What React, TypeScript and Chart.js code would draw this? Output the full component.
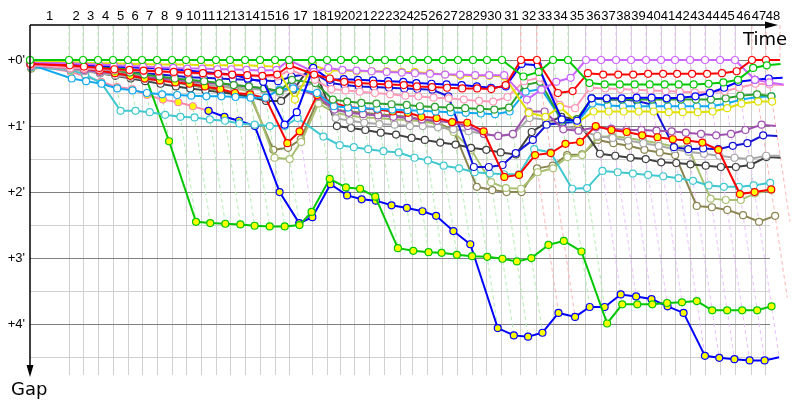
import { useEffect, useRef } from 'react';
import { Chart, registerables } from 'chart.js';
Chart.register(...registerables);

// Leader's cumulative time (minutes) at the end of each lap (index = lap)
const lapEnds = [0, 3.98, 5.41, 6.94, 8.47, 10.0, 11.43, 12.96, 14.49, 15.92, 17.45,
  18.98, 20.41, 21.94, 23.47, 25.0, 26.43, 28.78, 30.31, 31.73, 33.16,
  34.69, 36.22, 37.76, 39.08, 40.61, 42.14, 43.67, 45.2, 46.63, 48.16,
  50.1, 51.73, 53.37, 54.9, 56.73, 58.27, 59.8, 61.33, 62.86, 64.39,
  65.82, 67.35, 68.88, 70.41, 71.94, 73.67, 75.1, 76.53];

const lapLabels = ['1','2','3','4','5','6','7','8','9','10','11','12','13','14','15','16','17','18','19','20',
  '21','22','23','24','25','26','27','28','29','30','31','32','33','34','35','36','37','38','39','40',
  '41','42','43','44','45','46','47','48'];

const lapLeaders = ['green','green','green','green','green','green','green','green','green','green',
  'green','green','green','green','green','magenta','green','green','green','green',
  'green','green','green','green','green','green','green','green','green','green',
  'red','red','green','green','magenta','magenta','magenta','magenta','magenta','magenta',
  'magenta','magenta','magenta','magenta','magenta','red','red','red'];

const gapTicks = [0, 0.5, 1, 1.5, 2, 2.5, 3, 3.5, 4, 4.5];

// Gap to leader (minutes) per lap, index = lap 0..48
const gapGreen = [0, 0,0,0,0,0, 0,0,0,0,0, 0,0,0,0,0, 0,0,0,0,0, 0,0,0,0,0, 0,0,0,0,0,
  0.25,0.18,0,0,0.35, 0.37,0.37,0.37,0.37,0.37, 0.37,0.37,0.36,0.34,0.3, 0.12,0.08,0.06];
const gapRed = [0.06, 0.08,0.1,0.12,0.14,0.15, 0.16,0.17,0.18,0.19,0.2, 0.21,0.22,0.23,0.24,0.22,
  0.08,0.22,0.28,0.33,0.35, 0.36,0.37,0.38,0.4,0.41, 0.42,0.43,0.43,0.44,0.38,
  0,0,0.5,0.47,0.2, 0.22,0.22,0.22,0.21,0.21, 0.21,0.21,0.21,0.2,0.17, 0,0,0];
const gapMagenta = [0.04, 0.05,0.06,0.07,0.08,0.09, 0.1,0.11,0.12,0.13,0.13, 0.14,0.14,0.15,0.16,0.15,
  0,0.18,0.12,0.15,0.16, 0.17,0.18,0.19,0.2,0.21, 0.22,0.22,0.23,0.23,0.23,
  0.6,0.45,0.33,0.27,0, 0,0,0,0,0, 0,0,0,0,0, 0.3,0.34,0.37];
const gapYellow = [0.02, 0.03,0.04,0.05,0.05,0.06, 0.06,0.07,0.07,0.07,0.08, 0.08,0.08,0.08,0.09,0.1,
  0.6,0.08,0.16,0.16,0.17, 0.17,0.17,0.18,0.18,0.2, 0.22,0.24,0.24,0.24,0.25,
  0.8,0.86,0.71,0.95,0.78, 0.78,0.78,0.78,0.78,0.79, 0.79,0.79,0.78,0.73,0.66, 0.63,0.63,0.63];
const gapBlue = [0.05, 0.06,0.08,0.09,0.1,0.11, 0.12,0.13,0.14,0.16,0.18, 0.2,0.22,0.28,0.33,0.98,
  0.79,0.12,0.3,0.29,0.3, 0.31,0.32,0.33,0.35,0.36, 0.37,0.38,0.4,0.42,0.4,
  0.06,0.08,0.9,0.92,0.58, 0.58,0.58,0.57,0.57,0.58, 0.57,0.55,0.5,0.42,0.33, 0.3,0.28,0.27];
const gapPink = [0.08, 0.12,0.13,0.14,0.15,0.16, 0.17,0.18,0.19,0.2,0.21, 0.22,0.23,0.24,0.25,0.25,
  0.15,0.3,0.44,0.46,0.48, 0.5,0.52,0.54,0.55,0.57, 0.58,0.6,0.62,0.63,0.56,
  0.32,0.27,0.68,0.73,0.42, 0.43,0.44,0.45,0.46,0.47, 0.48,0.49,0.49,0.47,0.42, 0.36,0.37,0.38];
const gapDarkGreen = [0.04, 0.07,0.1,0.13,0.16,0.19, 0.22,0.25,0.28,0.3,0.32, 0.35,0.38,0.4,0.43,0.47,
  0.3,0.35,0.6,0.63,0.65, 0.66,0.67,0.68,0.7,0.71, 0.72,0.73,0.74,0.75,0.72,
  0.38,0.33,0.92,0.9,0.58, 0.6,0.6,0.6,0.6,0.6, 0.6,0.6,0.6,0.58,0.54, 0.52,0.55,0.55];
const gapSky = [0.07, 0.28,0.32,0.36,0.43,0.46, 0.5,0.52,0.53,0.54,0.55, 0.55,0.56,0.57,0.57,0.45,
  0.43,0.5,0.7,0.72,0.73, 0.74,0.75,0.76,0.77,0.78, 0.79,0.8,0.81,0.82,0.78,
  0.48,0.44,0.91,0.94,0.66, 0.69,0.7,0.7,0.7,0.7, 0.7,0.7,0.7,0.66,0.6, 0.56,0.55,0.55];
const gapPurple = [0.09, 0.12,0.15,0.18,0.2,0.23, 0.26,0.28,0.3,0.32,0.34, 0.36,0.38,0.4,0.43,0.47,
  0.4,0.55,0.75,0.8,0.82, 0.84,0.86,0.88,0.9,0.92, 0.95,1.0,1.12,1.15,1.12,
  0.78,0.78,1.05,1.07,1.02, 1.04,1.06,1.06,1.07,1.08, 1.1,1.12,1.14,1.12,1.06, 0.98,1.0,1.02];
const gapBlue2 = [0.05, 0.1,0.12,0.14,0.16,0.18, 0.2,0.22,0.24,0.26,0.27, 0.28,0.29,0.3,0.31,0.32,
  0.25,0.2,0.35,0.38,0.4, 0.41,0.42,0.43,0.44,0.45, 0.55,1.62,1.62,1.59,1.41,
  1.21,0.98,0.95,0.94,0.58, 0.6,0.6,0.62,0.68,1.32, 1.35,1.34,1.35,1.3,1.26, 1.14,1.15,1.15];
const gapGray = [0.1, 0.14,0.17,0.2,0.23,0.26, 0.29,0.31,0.33,0.35,0.37, 0.39,0.41,0.43,0.46,0.5,
  0.42,0.35,0.88,0.92,0.95, 0.97,0.98,1.0,1.0,1.02, 1.05,1.08,1.12,1.15,1.13,
  0.88,0.9,1.0,1.05,1.15, 1.18,1.22,1.26,1.3,1.35, 1.39,1.42,1.45,1.48,1.5, 1.45,1.45,null];
const gapBlack = [0.08, 0.12,0.16,0.2,0.24,0.28, 0.32,0.36,0.4,0.43,0.46, 0.49,0.52,0.56,0.62,0.62,
  0.45,0.05,1.0,1.03,1.06, 1.1,1.13,1.18,1.21,1.25, 1.28,1.33,1.36,1.4,1.43,
  1.09,0.95,0.86,0.9,1.42, 1.45,1.48,1.5,1.55,1.56, 1.58,1.6,1.62,1.62,1.59, 1.47,1.48,null];
const gapTurquoise = [0.11, 0.15,0.22,0.35,0.77,0.77, 0.79,0.83,0.86,0.87,0.9, 0.92,0.96,0.98,1.0,1.0,
  0.88,1.16,1.29,1.32,1.35, 1.38,1.4,1.48,1.52,1.6, 1.64,1.7,1.72,1.73,1.73,
  1.35,1.4,1.95,1.94,1.68, 1.7,1.72,1.74,1.76,1.79, 1.83,1.9,1.92,1.92,1.9, 1.86,1.88,null];
const gapLightOlive = [0.12, 0.1,0.13,0.16,0.19,0.22, 0.25,0.28,0.31,0.34,0.37, 0.4,0.43,0.47,1.48,1.5,
  1.24,0.66,0.8,0.84,0.87, 0.88,0.9,0.91,0.93,0.97, 1.09,1.36,1.85,1.94,1.95,
  1.7,1.64,1.47,1.44,1.17, 1.15,1.18,1.22,1.26,1.31, 1.31,2.1,2.12,2.12,2.02, 1.97,2.06,null];
const gapOlive = [0.13, 0.1,0.14,0.17,0.2,0.23, 0.26,0.3,0.34,0.38,0.42, 0.46,0.5,0.55,1.36,1.33,
  1.2,0.6,0.75,0.78,0.8, 0.82,0.84,0.86,0.9,0.95, 1.06,1.92,1.97,2.0,2.0,
  1.64,1.6,1.44,1.43,1.21, 1.26,1.3,1.36,1.4,1.44, 2.21,2.23,2.27,2.35,2.45, 2.36,2.4,null];
const gapRedY = [0.07, 0.1,0.13,0.16,0.2,0.24, 0.28,0.31,0.34,0.36,0.4, 0.44,0.5,0.52,0.58,1.26,
  1.08,0.53,0.65,0.71,0.73, 0.75,0.78,0.8,0.86,0.88, 0.94,0.95,1.08,1.77,1.74,
  1.44,1.41,1.27,1.24,1.0, 1.06,1.09,1.14,1.17,1.2, 1.22,1.25,1.36,2.03,2.0, 1.96,2.45,null];
const gapGreenY = [0.01, 0.05,0.08,0.1,0.12,0.14, 0.18,1.23,2.45,2.47,2.48, 2.49,2.51,2.52,2.52,2.5,
  2.3,1.8,1.93,1.95,2.07, 2.85,2.89,2.91,2.92,2.95, 2.97,2.98,3.01,3.05,3.0,
  2.8,2.74,2.9,3.99,3.7, 3.7,3.7,3.68,3.67,3.65, 3.79,3.79,3.79,3.79,3.73, 3.6,null,null];
const gapBlueY = [null, null,null,null,null,null, null,null,null,null,0.77, 0.86,0.92,1.0,2.0,2.47,
  2.38,1.88,2.05,2.11,2.13, 2.2,2.24,2.29,2.36,2.59, 2.79,4.06,4.17,4.19,4.13,
  3.83,3.89,3.74,3.74,3.55, 3.58,3.62,3.73,3.83,4.48, 4.51,4.53,4.55,4.55,4.5, null,null,null];
const gapPinkY = [0.08, 0.18,0.25,0.33,0.41,0.44, 0.53,0.6,0.64,0.7,0.77, null,null,null,null,null,
  null,null,null,null,null, null,null,null,null,null, null,null,null,null,null,
  null,null,null,null,null, null,null,null,null,null, null,null,null,null,null, null,null,null];

const cars = [
  { name: 'green', gaps: gapGreen, color: '#00c800', fill: '#ffffff' },
  { name: 'red', gaps: gapRed, color: '#ff0000', fill: '#ffffff' },
  { name: 'magenta', gaps: gapMagenta, color: '#cc66ff', fill: '#ffffff' },
  { name: 'blue', gaps: gapBlue, color: '#0000ff', fill: '#ffffff' },
  { name: 'yellow', gaps: gapYellow, color: '#e0e000', fill: '#ffffff' },
  { name: 'pink', gaps: gapPink, color: '#ff99b8', fill: '#ffffff' },
  { name: 'darkgreen', gaps: gapDarkGreen, color: '#2ca02c', fill: '#ffffff' },
  { name: 'sky', gaps: gapSky, color: '#10a8f0', fill: '#ffffff' },
  { name: 'redY', gaps: gapRedY, color: '#ff0000', fill: '#ffff00' },
  { name: 'purple', gaps: gapPurple, color: '#a050b0', fill: '#ffffff' },
  { name: 'blue2', gaps: gapBlue2, color: '#1414d8', fill: '#ffffff' },
  { name: 'gray', gaps: gapGray, color: '#a8a8a8', fill: '#ffffff' },
  { name: 'black', gaps: gapBlack, color: '#404040', fill: '#ffffff' },
  { name: 'turquoise', gaps: gapTurquoise, color: '#40c8d0', fill: '#ffffff' },
  { name: 'lightolive', gaps: gapLightOlive, color: '#a8c070', fill: '#ffffff' },
  { name: 'olive', gaps: gapOlive, color: '#8a8550', fill: '#ffffff' },
  { name: 'greenY', gaps: gapGreenY, color: '#00c800', fill: '#ffff00' },
  { name: 'blueY', gaps: gapBlueY, color: '#0000ff', fill: '#ffff00' },
  { name: 'pinkY', gaps: gapPinkY, color: '#ff88aa', fill: '#ffff00' },
];

const lapLineColors: Record<string, string> = { green: '#b4ecb4', red: '#ffb4b4', magenta: '#eac0ff' };

const Y_MIN = -0.53;
const Y_MAX = 4.77;
const X_MAX = 75.51;

const axisDecor = {
  id: 'axisDecor',
  afterDraw(chart: any) {
    const { ctx, chartArea } = chart;
    const { left, top, right, bottom } = chartArea;
    ctx.save();
    ctx.strokeStyle = '#000';
    ctx.fillStyle = '#000';
    ctx.lineWidth = 1.5;
    ctx.beginPath();
    ctx.moveTo(left, top);
    ctx.lineTo(right + 2, top);
    ctx.stroke();
    ctx.beginPath();
    ctx.moveTo(right + 8, top);
    ctx.lineTo(right - 5, top - 3.5);
    ctx.lineTo(right - 5, top + 3.5);
    ctx.closePath();
    ctx.fill();
    ctx.beginPath();
    ctx.moveTo(left, top);
    ctx.lineTo(left, bottom - 4);
    ctx.stroke();
    ctx.beginPath();
    ctx.moveTo(left, bottom + 2);
    ctx.lineTo(left - 3.5, bottom - 10);
    ctx.lineTo(left + 3.5, bottom - 10);
    ctx.closePath();
    ctx.fill();
    ctx.font = '18px "DejaVu Sans"';
    ctx.textAlign = 'right';
    ctx.textBaseline = 'alphabetic';
    ctx.fillText('Time', right + 17, top + 20);
    ctx.textAlign = 'left';
    ctx.fillText('Gap', 11, bottom + 20);
    ctx.restore();
  },
};

export default function App() {
  const ref = useRef<HTMLCanvasElement>(null);
  useEffect(() => {
    document.body.style.margin = '0';
    const carSets = cars.map((c) => ({
      type: 'line',
      label: c.name,
      data: c.gaps
        .map((g, k) => (g == null ? null : { x: lapEnds[k] + g, y: g }))
        .filter((p) => p !== null),
      borderColor: c.color,
      backgroundColor: c.fill,
      pointBackgroundColor: c.fill,
      pointBorderColor: c.color,
      pointRadius: 3.5,
      pointBorderWidth: 1.2,
      borderWidth: 2,
      tension: 0,
      clip: false,
      order: 0,
    }));
    const lapSets = lapLeaders.map((leader, i) => {
      const k = i + 1;
      let maxGap = 0;
      cars.forEach((c) => {
        const g = c.gaps[k];
        if (g != null && g > maxGap) maxGap = g;
      });
      return {
        type: 'line',
        label: 'lap' + k,
        data: [
          { x: lapEnds[k], y: Y_MIN },
          { x: lapEnds[k], y: 0 },
          { x: lapEnds[k] + maxGap, y: maxGap },
        ],
        borderColor: lapLineColors[leader],
        borderWidth: 1,
        borderDash: [4, 3],
        pointRadius: 0,
        tension: 0,
        clip: false,
        order: 5,
      };
    });

    const chart = new Chart(ref.current as HTMLCanvasElement, {
      type: 'line',
      data: { datasets: [...carSets, ...lapSets] as any },
      options: {
        animation: false,
        responsive: false,
        events: [],
        layout: { padding: { left: 0, top: 0, right: 30, bottom: 25 } },
        plugins: { legend: { display: false }, tooltip: { enabled: false } },
        scales: {
          x: {
            type: 'linear',
            position: 'bottom',
            min: 0,
            max: X_MAX,
            afterFit: (s: any) => { s.height = 0; },
            afterBuildTicks: (s: any) => {
              s.ticks = lapEnds.slice(1).filter((v) => v <= X_MAX).map((v) => ({ value: v }));
            },
            grid: { color: '#d0d0d0', lineWidth: 1, drawTicks: false },
            border: { display: false },
            ticks: { display: false },
          },
          xLab: {
            type: 'linear',
            position: 'top',
            min: 0,
            max: X_MAX,
            afterFit: (s: any) => { s.height = 25; },
            afterBuildTicks: (s: any) => {
              s.ticks = lapLabels.map((_, i) => ({ value: (lapEnds[i] + lapEnds[i + 1]) / 2 }));
            },
            grid: { display: false, drawTicks: false },
            border: { display: false },
            ticks: {
              autoSkip: false,
              maxRotation: 0,
              minRotation: 0,
              padding: 1,
              color: '#000',
              font: { family: '"Liberation Sans"', size: 13 },
              callback: (_v: any, i: number) => lapLabels[i],
            },
          },
          y: {
            type: 'linear',
            reverse: true,
            min: Y_MIN,
            max: Y_MAX,
            afterFit: (s: any) => { s.width = 30; },
            afterBuildTicks: (s: any) => {
              s.ticks = gapTicks.map((v) => ({ value: v }));
            },
            grid: {
              drawTicks: false,
              color: (ctx: any) => (ctx.tick && ctx.tick.value % 1 === 0 ? '#808080' : '#d0d0d0'),
              lineWidth: 1,
            },
            border: { display: false },
            ticks: {
              padding: 5,
              color: '#000',
              font: { family: '"Liberation Sans"', size: 13 },
              callback: (v: any) => (Number(v) % 1 === 0 ? "+" + v + "'" : ''),
            },
          },
        },
      } as any,
      plugins: [axisDecor],
    });
    return () => chart.destroy();
  }, []);
  return (
    <div style={{ position: 'fixed', left: 0, top: 0, width: 800, height: 400, background: '#fff' }}>
      <canvas ref={ref} width={800} height={400} />
    </div>
  );
}
